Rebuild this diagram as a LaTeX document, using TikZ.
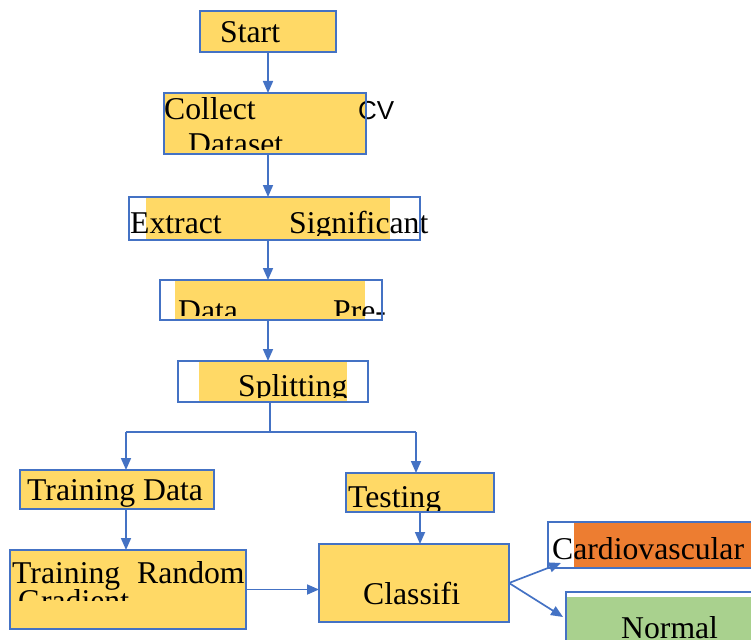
\documentclass[tikz,border=0pt]{standalone}
\usepackage{fontspec}
\setmainfont{Liberation Serif}
\newfontfamily\cvsans{Liberation Sans}
\usetikzlibrary{arrows.meta}
\definecolor{boxyellow}{HTML}{FFD966}
\definecolor{boxblue}{HTML}{4472C4}
\definecolor{boxorange}{HTML}{ED7D31}
\definecolor{boxgreen}{HTML}{A9D18E}
\begin{document}
\begin{tikzpicture}[x=1pt,y=-1pt,
  box/.style={draw=boxblue, line width=2pt, inner sep=0pt, outer sep=0pt, anchor=north west},
  txt/.style={inner sep=0pt, anchor=base west, font=\fontsize{31.7}{36}\selectfont},
  arr/.style={draw=boxblue, line width=1.7pt, -{Triangle[width=10pt,length=12pt]}},
  link/.style={draw=boxblue, line width=2.5pt}]
\useasboundingbox (0,0) rectangle (751,639);
\clip (0,0) rectangle (751,639);
% fills
\fill[boxyellow] (200,11) rectangle (336,52);
\fill[boxyellow] (164,93) rectangle (366,154);
\fill[boxyellow] (146,197) rectangle (390,240);
\fill[boxyellow] (175,280) rectangle (365,320);
\fill[boxyellow] (199,361) rectangle (347,402);
\fill[boxyellow] (20,470) rectangle (214,509);
\fill[boxyellow] (10,550) rectangle (246,629);
\fill[boxyellow] (346,473) rectangle (494,512);
\fill[boxyellow] (319,544) rectangle (509,622);
\fill[boxorange] (574,522) rectangle (760,568);
\fill[boxgreen] (567,597) rectangle (760,650);
% texts
\node[txt] (tstart) at (220,43) {Start};
\node[txt] (tcollect) at (164,120) {Collect};
\node[inner sep=0pt, anchor=base west, font=\cvsans\fontsize{26}{30}\selectfont] (tcv) at (358,120) {CV};
\begin{scope}
  \clip (100,93) rectangle (500,150);
  \node[txt] (tdataset) at (188,154) {Dataset};
\end{scope}
\begin{scope}
  \clip (100,197) rectangle (500,235);
  \node[txt] (textract) at (130,233) {Extract};
  \node[txt] (tsignif) at (289,233) {Significant};
\end{scope}
\begin{scope}
  \clip (100,280) rectangle (500,315);
  \node[txt] (tdata) at (178,321) {Data};
  \node[txt] (tpre) at (333,321) {Pre-};
\end{scope}
\begin{scope}
  \clip (100,361) rectangle (500,397);
  \node[txt] (tsplit) at (238,396) {Splitting};
\end{scope}
\node[txt] (ttraindata) at (27,500) {Training Data};
\node[txt] (ttraining) at (12,583) {Training};
\node[txt] (trandom) at (137,583) {Random};
\begin{scope}
  \clip (0,550) rectangle (300,600);
  \node[txt] (tgradient) at (18,611) {Gradient};
\end{scope}
\begin{scope}
  \clip (300,473) rectangle (520,510);
  \node[txt] (ttesting) at (348,507) {Testing};
\end{scope}
\node[txt] (tclassifi) at (363,604) {Classifi};
\node[txt] (tcardio) at (552,559) {Cardiovascular};
\node[txt] (tnormal) at (621,638) {Normal};
% box borders
\node[box, minimum width=136pt, minimum height=41pt] (start) at (200,11) {};
\node[box, minimum width=202pt, minimum height=61pt] (collect) at (164,93) {};
\node[box, minimum width=291pt, minimum height=43pt] (extract) at (129,197) {};
\node[box, minimum width=222pt, minimum height=40pt] (prep) at (160,280) {};
\node[box, minimum width=190pt, minimum height=41pt] (split) at (178,361) {};
\node[box, minimum width=194pt, minimum height=39pt] (traindata) at (20,470) {};
\node[box, minimum width=236pt, minimum height=79pt] (trainrand) at (10,550) {};
\node[box, minimum width=148pt, minimum height=39pt] (testing) at (346,473) {};
\node[box, minimum width=190pt, minimum height=78pt] (classifi) at (319,544) {};
\node[box, minimum width=220pt, minimum height=46pt] (cardio) at (548,522) {};
\node[box, minimum width=200pt, minimum height=60pt] (normal) at (566,592) {};
% connectors
\coordinate (junction) at (270,432);
\coordinate (jleft) at (126,432);
\coordinate (jright) at (416,432);
\coordinate (cardtip) at (561,563);
\coordinate (normaltip) at (563,617);
\draw[arr] (start.south) -- (start.south |- collect.north);
\draw[arr] (collect.south -| start.south) -- (start.south |- extract.north);
\draw[arr] (extract.south -| start.south) -- (start.south |- prep.north);
\draw[arr] (prep.south -| start.south) -- (start.south |- split.north);
\draw[link] (split.south -| junction) -- (junction);
\draw[link] (jleft) -- (jright);
\draw[arr] (jleft) -- (jleft |- traindata.north);
\draw[arr] (jright) -- (jright |- testing.north);
\draw[arr] (jleft |- traindata.south) -- (jleft |- trainrand.north);
\draw[arr] (trainrand.east) -- (trainrand.east -| classifi.west);
\draw[arr] (testing.south) -- (testing.south |- classifi.north);
\draw[arr] (classifi.east) -- (cardtip);
\draw[arr] (classifi.east) -- (normaltip);
\end{tikzpicture}
\end{document}
